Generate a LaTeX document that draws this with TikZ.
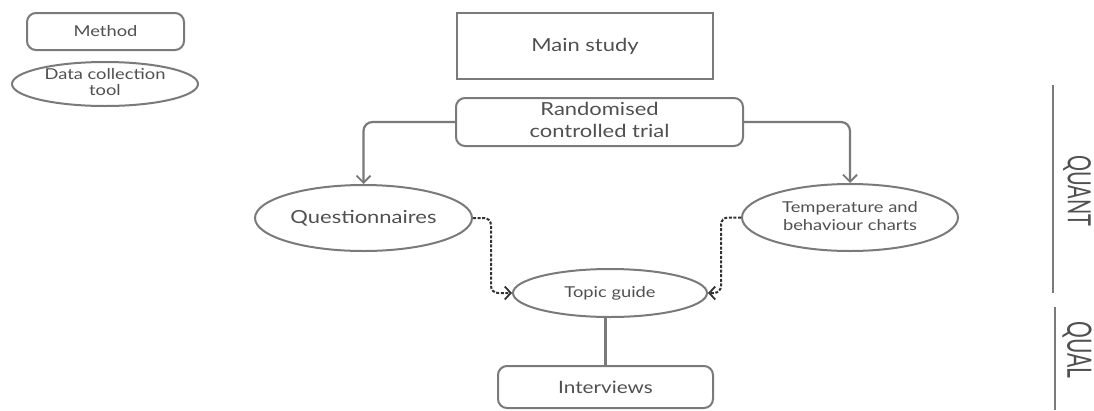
\documentclass[tikz,border=0pt]{standalone}
\usepackage{fontspec}
\setmainfont{Lato}
\usetikzlibrary{shapes.geometric,arrows.meta}
\definecolor{edge}{HTML}{7A7A7A}
\definecolor{ink}{HTML}{505050}
\definecolor{dash}{HTML}{333333}
% horizontally widened lettering
\newcommand{\wtxt}[2][15]{\fontsize{#1}{#1}\selectfont\scalebox{1.22}[1]{#2}}
\newcommand{\wtwo}[4][15]{\fontsize{#1}{#2}\selectfont\scalebox{1.22}[1]{\begin{tabular}{@{}c@{}}#3\\#4\end{tabular}}}
\begin{document}
\begin{tikzpicture}[x=1pt,y=-1pt,
  every node/.style={text=ink, inner sep=0pt},
  boxed/.style={draw=edge, line width=2pt, rounded corners=9pt},
  plainbox/.style={draw=edge, line width=2.4pt},
  oval/.style={draw=edge, line width=2pt, ellipse},
  link/.style={draw=edge, line width=2.2pt, rounded corners=9pt, -{Straight Barb[length=7pt,width=14pt,line width=1.8pt]}},
  dlink/.style={draw=dash, line width=2pt, dash pattern=on 3pt off 1.6pt, rounded corners=7pt, -{Straight Barb[length=6pt,width=13pt,line width=1.8pt]}},
  rule/.style={draw=edge, line width=2.2pt}]
\useasboundingbox (0,0) rectangle (1094,410);
\fill[white] (0,0) rectangle (1094,410);

% legend
\node[boxed, minimum width=157pt, minimum height=37pt] (leg1) at (105.5,31.5) {\wtxt{Method}};
\node[oval, minimum width=186pt, minimum height=44pt] (leg2) at (105,84) {\wtwo{15}{Data collection}{tool}};

% main flow
\node[plainbox, minimum width=256pt, minimum height=66pt] (main) at (585,46) {\wtxt[18]{Main study}};
\node[boxed, minimum width=287pt, minimum height=48pt] (rct) at (599.5,122) {\wtwo[18]{22}{Randomised}{controlled trial}};
\node[oval, minimum width=217pt, minimum height=66pt] (q) at (363.5,218) {\wtxt[18]{Questionnaires}};
\node[oval, minimum width=216pt, minimum height=67pt] (t) at (850,217.5) {\wtwo{18}{Temperature and}{behaviour charts}};
\node[oval, minimum width=194pt, minimum height=48pt] (tg) at (610,293) {\wtxt{Topic guide}};
\node[boxed, minimum width=215pt, minimum height=42pt] (iv) at (605.5,387) {\wtxt[17]{Interviews}};

\draw[link] (rct.west) -| (q.north);
\draw[link] (rct.east) -| (t.north);
\draw[dlink] (q.east) -- ++(18,0) |- (tg.west);
\draw[dlink] (t.west) -- ++(-20,0) |- (tg.east);
\draw[rule] (tg.south -| iv.north) -- (iv.north);

% phase markers
\coordinate (qa) at (1053,85);
\coordinate (qb) at (1053,293);
\coordinate (la) at (1055,307);
\coordinate (lb) at (1055,410);
\draw[rule] (qa) -- (qb);
\draw[rule] (la) -- (lb);
\node[rotate=-90] (quant) at (1077,191) {\fontsize{20}{20}\selectfont\scalebox{1}[1.6]{QUANT}};
\node[rotate=-90] (qual) at (1077,350) {\fontsize{21}{21}\selectfont\scalebox{1}[1.6]{QUAL}};
\end{tikzpicture}
\end{document}
